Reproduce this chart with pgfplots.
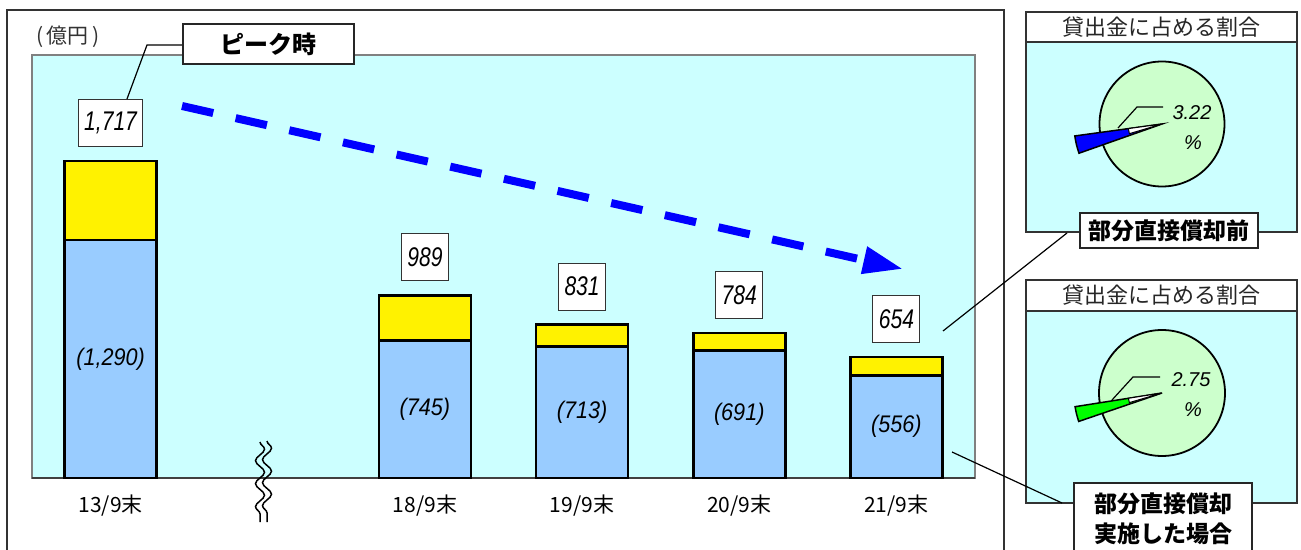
\documentclass[border=0pt]{standalone}
\usepackage{fontspec}
\usepackage{pgfplots}
\pgfplotsset{compat=1.18}
\usetikzlibrary{arrows.meta,decorations.pathmorphing}
\newfontfamily\jp{Noto Sans CJK JP}
\newfontfamily\numA{Liberation Sans}[FakeStretch=0.78]
\newfontfamily\numB{Liberation Sans}[FakeStretch=0.9]
\newfontfamily\numC{Liberation Sans}
\definecolor{cyanbg}{HTML}{CCFFFF}
\definecolor{barblue}{HTML}{99CCFF}
\definecolor{piegreen}{HTML}{CCFFCC}
\definecolor{wedgegreen}{HTML}{00FF00}
\tikzset{
  lbox/.style={draw=black!80, fill=white, line width=1pt, yshift=38pt,
     font=\numA\itshape\fontsize{27}{27}\selectfont, minimum height=47pt, inner xsep=6pt},
  ilab/.style={font=\numB\itshape\fontsize{24}{24}\selectfont},
}
\pgfplotstableread{
x  blue  yellow total
0  1290  427    1717
2  745   244    989
3  713   118    831
4  691   93     784
5  556   98     654
}\bardata
\begin{document}
\begin{tikzpicture}[x=1pt,y=1pt]
\useasboundingbox (0,0) rectangle (1301,549);
\fill[white] (0,0) rectangle (1301,549);
% outer frame of main panel
\draw[line width=1.2pt, black!80] (7,-5) -- (7,539) -- (1004,539) -- (1004,-5);
\begin{axis}[
  at={(32pt,71pt)}, anchor=south west,
  width=943pt, height=423pt, scale only axis,
  xmin=-0.5, xmax=5.5, ymin=0, ymax=2291,
  enlargelimits=false,
  ybar stacked, bar width=92pt,
  axis background/.style={fill=cyanbg},
  axis line style={draw=gray, line width=2pt},
  ytick=\empty,
  xtick={0,2,3,4,5},
  xticklabels={13/9末,18/9末,19/9末,20/9末,21/9末},
  major tick length=0pt,
  xticklabel style={font=\jp\fontsize{21}{24}\selectfont, yshift=-13pt},
  clip=false,
]
\addplot[fill=barblue, draw=black, line width=2.5pt] table[x=x,y=blue] {\bardata};
\addplot[fill=yellow, draw=black, line width=2.5pt] table[x=x,y=yellow] {\bardata};
\draw[black!75, line width=1.5pt] (rel axis cs:0,0) -- (rel axis cs:1,0);
\coordinate (t0) at (axis cs:0,1717);
\coordinate (t2) at (axis cs:2,989);
\coordinate (t3) at (axis cs:3,831);
\coordinate (t4) at (axis cs:4,784);
\coordinate (t5) at (axis cs:5,654);
\coordinate (b0) at (axis cs:0,645);
\coordinate (b2) at (axis cs:2,372.5);
\coordinate (b3) at (axis cs:3,356.5);
\coordinate (b4) at (axis cs:4,345.5);
\coordinate (b5) at (axis cs:5,278);
\end{axis}
\node[lbox] at (t0) {1,717};
\node[lbox] at (t2) {989};
\node[lbox] at (t3) {831};
\node[lbox] at (t4) {784};
\node[lbox] at (t5) {654};
\node[ilab] at (b0) {(1,290)};
\node[ilab] at (b2) {(745)};
\node[ilab] at (b3) {(713)};
\node[ilab] at (b4) {(691)};
\node[ilab] at (b5) {(556)};
% unit
\node[font=\jp\fontsize{21}{21}\selectfont, text=black!80] at (68,512) {(\,億円\,)};
% peak box
\draw[line width=1.2pt] (183,504) -- (147,504) -- (127,450);
\node[draw=black!85, fill=white, line width=1.5pt, minimum width=171pt, minimum height=40pt,
      font=\jp\bfseries\fontsize{24}{24}\selectfont] at (268.5,505) {ピーク時};
% trend arrow
\draw[blue, line width=8pt, dash pattern=on 32pt off 23pt,
      -{Triangle[length=40pt,width=26pt]}] (182,443) -- (903,280);
% break mark
\draw[line width=1.5pt, decorate, decoration={snake, segment length=23pt, amplitude=4.5pt}] (260,107) -- (260,27);
\draw[line width=1.5pt, decorate, decoration={snake, segment length=23pt, amplitude=4.5pt}] (267,108) -- (267,27);
% ---- right top panel
\draw[line width=1.5pt, black!80, fill=white] (1026,507) rectangle (1297,537);
\node[font=\jp\fontsize{22}{22}\selectfont, text=black!85] at (1161.5,522) {貸出金に占める割合};
\draw[line width=1.5pt, black!80, fill=cyanbg] (1026,317) rectangle (1297,507);
\pgfmathsetmacro\sa{3.22*3.6}
\begin{scope}[shift={(1162,425)}]
\filldraw[fill=piegreen, draw=black, line width=1.8pt] (0,0) circle (62.5);
\filldraw[fill=blue, draw=black, line width=1.5pt] (0,0) -- (193.6-\sa/2:88) arc[start angle=193.6-\sa/2, end angle=193.6+\sa/2, radius=88] -- cycle;
\filldraw[fill=white, draw=black, line width=1pt] (0,0) -- (193.6-\sa/2:34) arc[start angle=193.6-\sa/2, end angle=193.6+\sa/4, radius=34] -- cycle;
\end{scope}
\draw[line width=1.2pt] (1118,421) -- (1137,442) -- (1163,442);
\node[font=\numC\itshape\fontsize{20}{20}\selectfont] at (1192,436) {3.22};
\node[font=\numC\itshape\fontsize{20}{20}\selectfont] at (1193,406) {\%};
\draw[line width=1.2pt] (943,218) -- (1067,316);
\node[draw=black!85, fill=white, line width=1.5pt, minimum width=178pt, minimum height=35pt, inner xsep=2pt,
      font=\jp\bfseries\fontsize{23}{23}\selectfont] at (1169,318.5) {部分直接償却前};
% ---- right bottom panel
\draw[line width=1.5pt, black!80, fill=white] (1026,238) rectangle (1297,269);
\node[font=\jp\fontsize{22}{22}\selectfont, text=black!85] at (1161.5,253.5) {貸出金に占める割合};
\draw[line width=1.5pt, black!80, fill=cyanbg] (1026,46) rectangle (1297,238);
\pgfmathsetmacro\sb{2.75*3.6}
\begin{scope}[shift={(1162,156)}]
\filldraw[fill=piegreen, draw=black, line width=1.8pt] (0,0) circle (63);
\filldraw[fill=wedgegreen, draw=black, line width=1.5pt] (0,0) -- (193.9-\sb/2:88) arc[start angle=193.9-\sb/2, end angle=193.9+\sb/2, radius=88] -- cycle;
\filldraw[fill=white, draw=black, line width=1pt] (0,0) -- (193.9-\sb/2:34) arc[start angle=193.9-\sb/2, end angle=193.9+\sb/4, radius=34] -- cycle;
\end{scope}
\draw[line width=1.2pt] (1112,149) -- (1133,172) -- (1160,172);
\node[font=\numC\itshape\fontsize{20}{20}\selectfont] at (1191,169) {2.75};
\node[font=\numC\itshape\fontsize{20}{20}\selectfont] at (1193,139) {\%};
\draw[line width=1.2pt] (952,97) -- (1062,46);
\node[draw=black!85, fill=white, line width=1.5pt, minimum width=178pt, anchor=north, align=center,
      inner ysep=10pt, font=\jp\bfseries\fontsize{23}{30}\selectfont] at (1163,67) {部分直接償却\\実施した場合};
\end{tikzpicture}
\end{document}
